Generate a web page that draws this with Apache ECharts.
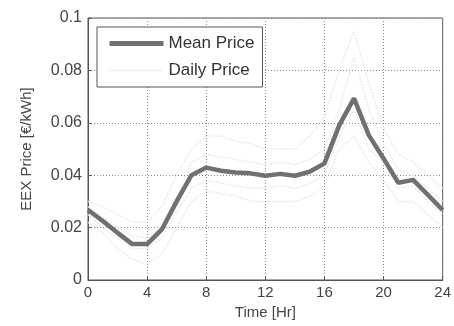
<!DOCTYPE html>
<html><head><meta charset="utf-8">
<script src="https://cdn.jsdelivr.net/npm/echarts@6/dist/echarts.min.js"></script>
<style>html,body{margin:0;padding:0;background:#fff}#c{width:454px;height:326px}</style>
</head><body><div id="c"></div>
<script>
const hours = [0,1,2,3,4,5,6,7,8,9,10,11,12,13,14,15,16,17,18,19,20,21,22,23,24];
const meanPrice = [0.0267,0.0225,0.018,0.0137,0.0137,0.0193,0.030,0.040,0.0429,0.0417,0.041,0.0407,0.0398,0.0405,0.0398,0.0413,0.0445,0.059,0.0693,0.0553,0.0464,0.0371,0.0382,0.0325,0.0267];
const daily1 = [0.030,0.028,0.025,0.022,0.022,0.028,0.040,0.050,0.055,0.055,0.053,0.052,0.050,0.050,0.050,0.055,0.062,0.080,0.095,0.075,0.058,0.048,0.045,0.040,0.035];
const daily2 = [0.022,0.018,0.012,0.008,0.006,0.010,0.020,0.030,0.034,0.033,0.032,0.030,0.030,0.030,0.030,0.032,0.036,0.050,0.055,0.045,0.038,0.030,0.030,0.025,0.020];
const daily3 = [0.028,0.024,0.020,0.017,0.016,0.020,0.032,0.045,0.048,0.047,0.046,0.045,0.044,0.045,0.044,0.046,0.050,0.065,0.085,0.065,0.052,0.042,0.040,0.035,0.030];
const daily4 = [0.025,0.020,0.016,0.012,0.012,0.016,0.026,0.035,0.038,0.037,0.036,0.035,0.035,0.036,0.035,0.037,0.040,0.055,0.065,0.050,0.045,0.035,0.036,0.030,0.025];
const dailyList = [daily1, daily2, daily3, daily4];
const xTicks = [0,4,8,12,16,20,24];
const yTicks = [0,0.02,0.04,0.06,0.08,0.1];

const pair = arr => hours.map((h,i)=>[h,arr[i]]);
const font = 'Liberation Sans, Arial, sans-serif';
const series = dailyList.map(d => ({
  name: 'Daily Price', type: 'line', data: pair(d), symbol: 'none',
  itemStyle: {color: '#e6e6e6'},
  lineStyle: {color: '#e6e6e6', width: 1.5, type: 'dotted'}, z: 1
}));
series.push({
  name: 'Mean Price', type: 'line', data: pair(meanPrice), symbol: 'none',
  itemStyle: {color: '#707070'},
  lineStyle: {color: '#707070', width: 4.5}, z: 5
});
const chart = echarts.init(document.getElementById('c'));
chart.setOption({
  animation: false,
  grid: {left: 88, right: 9, top: 18, bottom: 46, show: true, borderColor: '#555', borderWidth: 1},
  legend: {
    data: [
      {name: 'Mean Price', lineStyle: {width: 5, color: '#707070'}},
      {name: 'Daily Price', lineStyle: {width: 1.5, color: '#e6e6e6', type: 'dotted'}}
    ],
    orient: 'vertical', left: 97, top: 27,
    backgroundColor: '#fff', borderColor: '#555', borderWidth: 1,
    padding: [8, 8, 8, 10], itemWidth: 54, itemHeight: 14, itemGap: 10,
    itemStyle: {opacity: 0},
    textStyle: {fontFamily: font, fontSize: 17, color: '#333'}
  },
  xAxis: {
    type: 'value', min: 0, max: 24, interval: 4,
    name: 'Time [Hr]', nameLocation: 'middle', nameGap: 23,
    nameTextStyle: {fontFamily: font, fontSize: 15, color: '#444'},
    axisLine: {show: true, lineStyle: {color: '#555'}},
    axisTick: {inside: true, length: 4, lineStyle: {color: '#555'}},
    axisLabel: {fontFamily: font, fontSize: 15, color: '#444', margin: 5, formatter: v => xTicks.includes(v) ? String(v) : ''},
    splitLine: {show: true, lineStyle: {color: '#888', type: [1, 2], width: 1}}
  },
  yAxis: {
    type: 'value', min: 0, max: 0.1, interval: 0.02,
    name: 'EEX Price [€/kWh]', nameLocation: 'middle', nameGap: 54,
    nameTextStyle: {fontFamily: font, fontSize: 15, color: '#444'},
    axisLine: {show: true, lineStyle: {color: '#555'}},
    axisTick: {inside: true, length: 4, lineStyle: {color: '#555'}},
    axisLabel: {fontFamily: font, fontSize: 16, color: '#444', margin: 6,
      formatter: v => { const t = yTicks.find(y => Math.abs(y - v) < 1e-9); return t === undefined ? '' : String(+t.toFixed(2)); }},
    splitLine: {show: true, lineStyle: {color: '#888', type: [1, 2], width: 1}}
  },
  series: series
});
</script></body></html>
